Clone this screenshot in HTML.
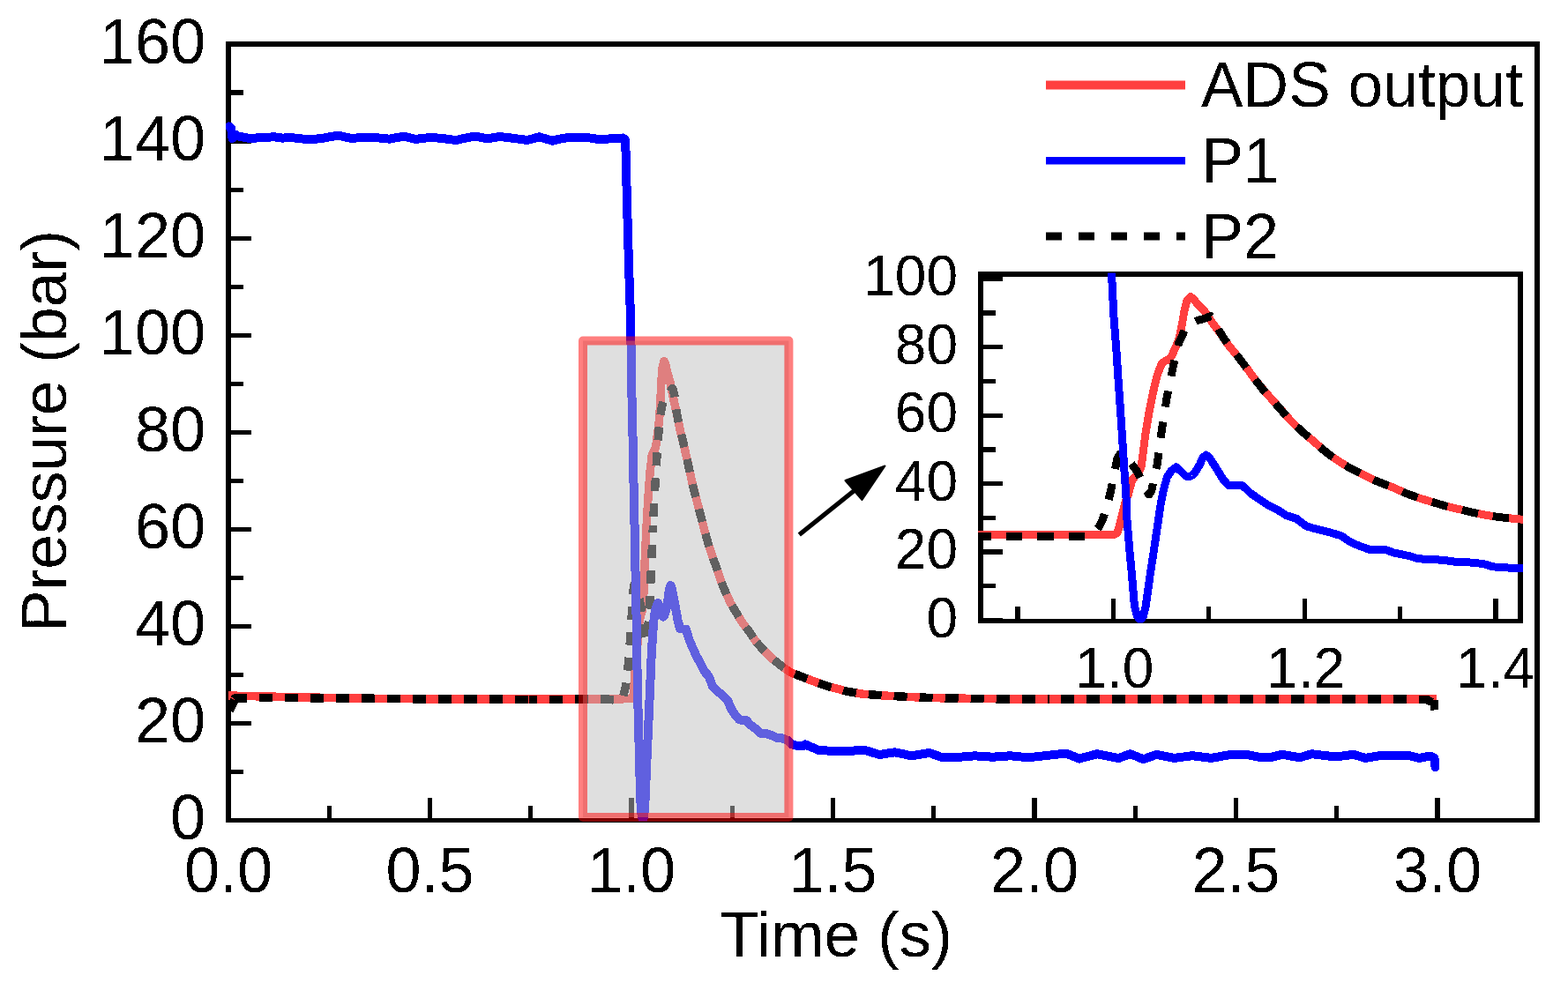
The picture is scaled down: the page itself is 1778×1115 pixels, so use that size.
<!DOCTYPE html>
<html><head><meta charset="utf-8"><title>Pressure vs Time</title>
<style>html,body{margin:0;padding:0;background:#fff;overflow:hidden}svg{display:block}</style>
</head><body>
<svg width="1778" height="1115" viewBox="0 0 1778 1115" font-family="'Liberation Sans', sans-serif">
<rect x="0" y="0" width="1778" height="1115" fill="#fff"/>
<defs>
<filter id="bin"><feComponentTransfer><feFuncA type="discrete" tableValues="0 1"/></feComponentTransfer></filter>
<clipPath id="cm"><rect x="256" y="47" width="1490" height="884.5"/></clipPath>
<clipPath id="ci"><rect x="1109" y="309.5" width="618" height="397"/></clipPath>
</defs>
<g fill="#000" shape-rendering="crispEdges"><rect x="256" y="47" width="1490" height="6"/><rect x="256" y="47" width="6" height="886"/><rect x="1740" y="47" width="6" height="886"/><rect x="256" y="928" width="1490" height="5"/></g>
<path d="M259 930.5H284.5M259 875.5H276M259 820.4H284.5M259 765.4H276M259 710.4H284.5M259 655.4H276M259 600.3H284.5M259 545.3H276M259 490.3H284.5M259 435.2H276M259 380.2H284.5M259 325.2H276M259 270.1H284.5M259 215.1H276M259 160.1H284.5M259 105.0H276M259 50.0H284.5M259.0 930.5V905M373.2 930.5V914M487.5 930.5V905M601.8 930.5V914M716.0 930.5V905M830.2 930.5V914M944.5 930.5V905M1058.8 930.5V914M1173.0 930.5V905M1287.2 930.5V914M1401.5 930.5V905M1515.8 930.5V914M1630.0 930.5V905" stroke="#000" stroke-width="5.2" fill="none" shape-rendering="crispEdges"/>
<text filter="url(#bin)" x="233" y="952.0" font-size="72" text-anchor="end">0</text>
<text filter="url(#bin)" x="233" y="841.9" font-size="72" text-anchor="end">20</text>
<text filter="url(#bin)" x="233" y="731.9" font-size="72" text-anchor="end">40</text>
<text filter="url(#bin)" x="233" y="621.8" font-size="72" text-anchor="end">60</text>
<text filter="url(#bin)" x="233" y="511.8" font-size="72" text-anchor="end">80</text>
<text filter="url(#bin)" x="233" y="401.7" font-size="72" text-anchor="end">100</text>
<text filter="url(#bin)" x="233" y="291.6" font-size="72" text-anchor="end">120</text>
<text filter="url(#bin)" x="233" y="181.6" font-size="72" text-anchor="end">140</text>
<text filter="url(#bin)" x="233" y="71.5" font-size="72" text-anchor="end">160</text>
<text filter="url(#bin)" x="259.0" y="1012" font-size="72" text-anchor="middle">0.0</text>
<text filter="url(#bin)" x="487.5" y="1012" font-size="72" text-anchor="middle">0.5</text>
<text filter="url(#bin)" x="716.0" y="1012" font-size="72" text-anchor="middle">1.0</text>
<text filter="url(#bin)" x="944.5" y="1012" font-size="72" text-anchor="middle">1.5</text>
<text filter="url(#bin)" x="1173.0" y="1012" font-size="72" text-anchor="middle">2.0</text>
<text filter="url(#bin)" x="1401.5" y="1012" font-size="72" text-anchor="middle">2.5</text>
<text filter="url(#bin)" x="1630.0" y="1012" font-size="72" text-anchor="middle">3.0</text>
<text filter="url(#bin)" x="816" y="1085" font-size="72" textLength="264" lengthAdjust="spacingAndGlyphs">Time (s)</text>
<text filter="url(#bin)" transform="translate(75 717) rotate(-90)" x="0" y="0" font-size="72" textLength="456" lengthAdjust="spacingAndGlyphs">Pressure (bar)</text>
<g clip-path="url(#cm)" fill="none" stroke-linejoin="round" shape-rendering="crispEdges">
<polyline points="259.0,789.0 300.0,790.0 350.0,791.0 400.0,792.0 490.0,793.0 600.0,793.0 700.0,793.0 716.7,792.4 718.0,789.8 718.8,780.6 719.7,769.2 720.7,753.6 721.8,740.8 723.0,729.4 724.1,716.7 724.9,705.3 726.4,698.9 728.1,693.2 729.4,684.0 730.2,662.7 731.3,634.3 733.0,598.7 735.0,563.9 737.1,535.1 739.1,517.7 740.7,512.8 742.4,510.6 743.9,505.2 745.9,490.0 747.5,476.5 748.8,456.6 750.0,431.1 751.3,415.4 753.1,409.5 754.7,413.3 756.1,420.3 759.7,432.5 763.3,451.0 767.0,467.2 771.2,487.9 775.4,505.0 780.3,526.3 785.1,548.3 790.0,567.5 794.8,585.5 799.3,603.3 803.4,617.6 807.6,630.3 811.8,642.1 815.9,654.4 820.1,665.7 824.3,675.2 828.4,684.0 832.6,691.1 836.7,697.9 840.9,704.9 845.0,710.6 850.4,717.4 856.3,726.5 863.0,734.4 870.0,741.5 875.7,747.2 881.7,751.9 887.9,756.9 894.1,761.1 900.5,764.4 907.8,767.0 912.9,769.1 926.0,774.0 940.8,779.0 960.0,784.1 977.0,787.1 1004.0,789.1 1031.0,790.5 1058.0,791.6 1085.0,792.1 1112.0,792.5 1139.0,792.9 1190.0,793.2 1400.0,793.0 1629.0,793.0" stroke="#ff3f3f" stroke-width="9.5"/>
<polyline points="259.5,806.0 262.0,798.0 266.0,792.0 300.0,791.5 400.0,792.0 490.0,793.0 600.0,793.3" stroke="#000" stroke-width="9.5" stroke-dasharray="15 14" stroke-dashoffset="14.25"/>
<polyline points="600.0,793.3 600.0,793.3 690.0,793.2 703.2,794.8 706.6,789.8 709.1,780.6 710.8,769.2 712.9,747.9 715.0,719.5 716.7,691.1 718.0,669.8 719.2,662.7 721.4,665.5 724.3,676.9 727.3,689.7 730.2,709.6 731.9,722.3 733.2,728.0 734.4,720.9 735.7,698.2 737.1,678.3 739.1,626.7 740.5,596.2" stroke="#000" stroke-width="9.5" stroke-dasharray="15 14" stroke-dashoffset="6.00"/>
<polyline points="740.5,596.2 741.5,575.1 744.5,523.4 747.3,484.3 750.3,462.0 753.0,452.4 756.1,447.7 759.3,444.6 762.7,440.6 764.8,448.1 766.9,465.2 769.1,477.4 773.2,495.0 778.5,518.2 783.3,540.5 788.1,561.1 792.2,576.0 796.6,593.0 799.3,603.3 803.4,617.6 807.6,630.3 811.8,642.1 815.9,654.4 820.1,665.7 824.3,675.2 828.4,684.0 832.6,691.1 836.7,697.9 840.9,704.9 845.0,710.6 850.4,717.4 856.3,726.5 858.0,728.5" stroke="#000" stroke-width="9.5" stroke-dasharray="15 14" stroke-dashoffset="19.00"/>
<polyline points="858.0,728.5 863.0,734.4 870.0,741.5 875.7,747.2 881.7,751.9 887.9,756.9 894.1,761.1 900.5,764.4 907.8,767.0 912.9,769.1 926.0,774.0 940.8,779.0 960.0,784.1 977.0,787.1 1004.0,789.1 1031.0,790.5 1058.0,791.6 1085.0,792.1 1112.0,792.5 1139.0,792.9 1190.0,793.2" stroke="#000" stroke-width="9.5" stroke-dasharray="15 14" stroke-dashoffset="1.25"/>
<polyline points="1190.0,793.2 1190.0,793.2 1400.0,793.0 1600.0,793.0 1618.0,793.5 1624.0,797.0 1629.0,804.0" stroke="#000" stroke-width="9.5" stroke-dasharray="15 14" stroke-dashoffset="16.00"/>
<path d="M1626 794L1626.5 805.5M260 806L266 794" stroke="#000" stroke-width="9.5"/>
<polyline points="259.5,143.5 262.0,145.0 263.5,157.0 266.5,152.5 270.0,154.5 274.3,155.3 280.0,156.5 286.4,157.3 293.2,156.0 302.0,155.8 310.7,155.3 320.2,156.6 329.6,156.0 340.0,157.2 351.2,158.3 364.7,157.0 374.0,155.2 383.6,153.6 398.5,157.0 408.0,156.2 418.7,155.6 430.0,156.5 441.7,157.7 457.9,154.6 471.4,157.9 480.0,156.8 490.0,155.9 503.0,157.2 517.0,159.0 528.0,156.5 538.6,154.6 552.1,157.3 566.9,155.0 582.0,156.8 598.0,159.0 611.5,155.3 626.3,159.7 635.0,157.5 645.2,155.9 655.0,156.2 665.5,155.9 673.0,157.2 681.7,158.3 690.0,157.5 699.2,157.0 706.5,156.5 709.2,159.0 711.0,230.0 713.0,300.0 715.0,360.0 715.0,357.2 715.2,371.4 716.3,442.4 717.6,499.3 718.4,541.9 719.1,575.7 719.9,612.9 720.6,652.2 721.4,691.1 722.2,728.6 722.6,769.2 723.8,815.1 725.0,861.0 726.2,906.9 727.5,924.1 728.9,930.5 730.4,924.1 731.6,906.9 733.5,861.0 735.6,815.1 737.1,780.6 738.6,745.1 740.1,719.5 741.8,699.6 743.7,689.9 746.1,683.8 748.6,691.2 750.4,697.5 752.0,699.6 753.6,697.5 755.1,692.5 757.4,679.7 758.9,668.4 760.4,664.1 761.8,667.6 763.4,675.9 766.1,689.9 768.4,702.7 771.0,713.0 774.1,713.5 777.8,713.5 781.6,725.8 785.4,734.7 790.0,744.9 794.5,752.6 798.7,761.6 803.6,766.7 808.1,778.6 812.8,783.4 818.4,787.8 825.3,794.8 828.9,803.6 833.6,810.7 838.3,816.4 846.4,817.1 850.2,821.9 857.3,826.8 862.0,831.6 869.2,832.3 876.3,834.7 881.0,837.1 885.8,837.1 892.9,839.6 897.6,844.4 904.7,846.0 910.9,846.0 912.9,844.4 928.0,850.8 945.0,852.0 963.5,851.9 979.7,850.6 997.2,856.0 1014.8,853.3 1033.7,857.3 1054.0,854.0 1068.8,859.3 1089.0,858.7 1105.2,857.3 1125.5,858.7 1145.7,857.3 1166.0,859.3 1190.0,856.6 1209.0,854.5 1223.7,860.6 1244.0,855.2 1268.3,860.0 1281.8,855.2 1296.6,861.2 1311.5,855.8 1331.7,859.9 1352.0,857.2 1373.6,859.9 1392.5,856.5 1412.7,855.8 1430.0,859.2 1440.2,859.2 1453.7,855.8 1474.0,859.2 1487.5,855.2 1514.5,858.5 1534.7,855.8 1548.2,859.9 1568.5,856.5 1595.5,856.5 1609.0,859.9 1622.0,857.5 1626.5,860.0 1627.5,870.0" stroke="#0000ff" stroke-width="10" stroke-linecap="round"/>
</g>
<rect x="661" y="386.5" width="233.4" height="540.5" fill="rgb(192,192,192)" fill-opacity="0.5" stroke="#ff0000" stroke-opacity="0.5" stroke-width="10" stroke-linejoin="round"/>
<path d="M906.3 606.5 L968 557" stroke="#000" stroke-width="5.2" fill="none"/>
<path d="M1003.5 528.5 L958.5 545 L977.5 567 Z" fill="#000" stroke="#000" stroke-width="2" stroke-linejoin="round"/>
<g fill="#000" shape-rendering="crispEdges"><rect x="1109" y="308" width="618" height="6"/><rect x="1109" y="308" width="6" height="399"/><rect x="1721" y="308" width="6" height="399"/><rect x="1109" y="702" width="618" height="5"/></g>
<path d="M1112 703.5H1137M1112 664.8H1129M1112 626.0H1137M1112 587.3H1129M1112 548.6H1137M1112 509.9H1129M1112 471.1H1137M1112 432.4H1129M1112 393.7H1137M1112 354.9H1129M1112 316.2H1137M1153.9 704V688M1262.3 704V679M1370.7 704V688M1479.1 704V679M1587.5 704V688M1695.9 704V679" stroke="#000" stroke-width="5.2" fill="none" shape-rendering="crispEdges"/>
<text filter="url(#bin)" x="1086" y="722.5" font-size="64" text-anchor="end">0</text>
<text filter="url(#bin)" x="1086" y="645.0" font-size="64" text-anchor="end">20</text>
<text filter="url(#bin)" x="1086" y="567.6" font-size="64" text-anchor="end">40</text>
<text filter="url(#bin)" x="1086" y="490.1" font-size="64" text-anchor="end">60</text>
<text filter="url(#bin)" x="1086" y="412.7" font-size="64" text-anchor="end">80</text>
<text filter="url(#bin)" x="1086" y="335.2" font-size="64" text-anchor="end">100</text>
<text filter="url(#bin)" x="1263.8" y="780" font-size="64" text-anchor="middle">1.0</text>
<text filter="url(#bin)" x="1480.6" y="780" font-size="64" text-anchor="middle">1.2</text>
<text filter="url(#bin)" x="1740" y="780" font-size="64" text-anchor="end">1.4</text>
<g clip-path="url(#ci)" fill="none" stroke-linejoin="round" shape-rendering="crispEdges">
<polyline points="1100.0,606.3 1264.0,606.3 1267.0,604.5 1269.0,598.0 1271.0,590.0 1273.5,579.0 1276.0,570.0 1279.0,562.0 1281.5,553.0 1283.5,545.0 1287.0,540.5 1291.0,536.5 1294.0,530.0 1296.0,515.0 1298.5,495.0 1302.6,470.0 1307.4,445.5 1312.3,425.2 1317.1,413.0 1321.0,409.5 1325.0,408.0 1328.4,404.2 1333.2,393.5 1337.0,384.0 1340.0,370.0 1343.0,352.0 1346.0,341.0 1350.2,336.8 1354.0,339.5 1357.4,344.4 1366.0,353.0 1374.6,366.0 1383.2,377.4 1393.3,392.0 1403.3,404.0 1414.8,419.0 1426.3,434.5 1437.8,448.0 1449.2,460.7 1459.9,473.2 1469.7,483.3 1479.6,492.2 1489.5,500.5 1499.3,509.2 1509.2,517.1 1519.1,523.8 1529.0,530.0 1538.8,535.0 1548.7,539.8 1558.6,544.7 1568.4,548.7 1581.0,553.5 1595.0,559.9 1611.0,565.5 1627.6,570.5 1641.0,574.5 1655.3,577.8 1670.0,581.3 1684.7,584.3 1700.0,586.6 1717.3,588.4 1740.0,590.5" stroke="#ff3f3f" stroke-width="9"/>
<polyline points="1100.0,608.0 1232.0,608.0 1240.0,604.5 1246.0,598.0 1250.0,590.0 1255.0,575.0 1260.0,555.0 1264.0,535.0 1267.0,520.0 1270.0,515.0 1275.0,517.0 1282.0,525.0 1289.0,534.0 1296.0,548.0 1300.0,557.0 1303.0,561.0 1306.0,556.0 1309.0,540.0 1312.3,526.0 1317.1,489.7 1322.7,453.4 1330.0,417.0 1336.5,389.5 1343.7,373.8 1350.0,367.0 1357.3,363.7 1365.0,361.5 1373.0,358.7 1378.0,364.0 1383.0,376.0 1388.2,384.6 1398.0,397.0 1410.5,413.3 1422.0,429.0 1433.4,443.5 1443.0,454.0 1453.5,466.0 1459.9,473.2 1469.7,483.3 1479.6,492.2 1489.5,500.5 1499.3,509.2 1509.2,517.1 1519.1,523.8 1529.0,530.0 1538.8,535.0 1548.7,539.8 1558.6,544.7 1568.4,548.7 1581.0,553.5 1595.0,559.9 1611.0,565.5 1627.6,570.5 1641.0,574.5 1655.3,577.8 1670.0,581.3 1684.7,584.3 1700.0,586.6 1717.3,588.4 1740.0,590.5" stroke="#000" stroke-width="9" stroke-dasharray="18.5 17" stroke-dashoffset="30.1"/>
<polyline points="179.5,149.6 185.4,150.7 189.0,159.1 196.1,155.9 204.4,157.4 214.6,157.9 228.1,158.8 243.3,159.3 259.4,158.4 280.3,158.3 300.9,157.9 323.5,158.8 345.8,158.4 370.4,159.3 397.0,160.0 429.0,159.1 451.1,157.8 473.9,156.7 509.2,159.1 531.7,158.5 557.1,158.1 583.9,158.8 611.7,159.6 650.1,157.4 682.1,159.7 702.5,159.0 726.2,158.3 757.1,159.3 790.3,160.5 816.4,158.8 841.5,157.4 873.5,159.3 908.6,157.7 944.5,159.0 982.4,160.5 1014.4,157.9 1049.5,161.0 1070.2,159.5 1094.4,158.3 1117.6,158.5 1142.5,158.3 1160.3,159.3 1180.9,160.0 1200.6,159.5 1222.5,159.1 1239.8,158.8 1246.2,160.5 1250.4,210.5 1255.2,259.8 1259.9,302.0 1260.0,300.0 1260.5,310.0 1263.0,360.0 1266.1,400.0 1268.0,430.0 1269.7,453.8 1271.5,480.0 1273.3,507.6 1275.0,535.0 1276.9,561.4 1278.0,590.0 1280.7,622.3 1283.7,654.6 1286.4,686.9 1289.5,699.0 1293.0,703.5 1296.5,699.0 1299.3,686.9 1303.8,654.6 1308.7,622.3 1312.3,598.0 1316.0,573.0 1319.5,555.0 1323.5,541.0 1328.0,534.2 1333.8,529.9 1339.7,535.1 1344.0,539.5 1347.8,541.0 1351.5,539.5 1355.0,536.0 1360.4,527.0 1364.0,519.0 1367.6,516.0 1371.0,518.5 1374.8,524.3 1381.1,534.2 1386.5,543.2 1392.8,550.4 1400.0,550.8 1409.0,550.8 1418.0,559.4 1427.0,565.7 1437.8,572.9 1448.6,578.3 1458.5,584.6 1470.0,588.2 1480.8,596.6 1492.0,600.0 1505.2,603.1 1521.5,608.0 1530.0,614.2 1541.2,619.2 1552.5,623.2 1571.6,623.7 1580.6,627.1 1597.5,630.5 1608.7,633.9 1625.6,634.4 1642.5,636.1 1653.7,637.8 1665.0,637.8 1681.9,639.5 1693.1,642.9 1710.0,644.0 1724.6,644.0 1740.0,645.0" stroke="#0000ff" stroke-width="9"/>
</g>
<path d="M1186 96.5H1344" stroke="#ff3f3f" stroke-width="10"/>
<path d="M1186 182.3H1344" stroke="#0000ff" stroke-width="8.6"/>
<path d="M1186 268H1344" stroke="#000" stroke-width="9" stroke-dasharray="18 19"/>
<text filter="url(#bin)" x="1362" y="121" font-size="72" textLength="365" lengthAdjust="spacingAndGlyphs">ADS output</text>
<text filter="url(#bin)" x="1362" y="207" font-size="72">P1</text>
<text filter="url(#bin)" x="1362" y="292.5" font-size="72">P2</text>
</svg>
</body></html>
